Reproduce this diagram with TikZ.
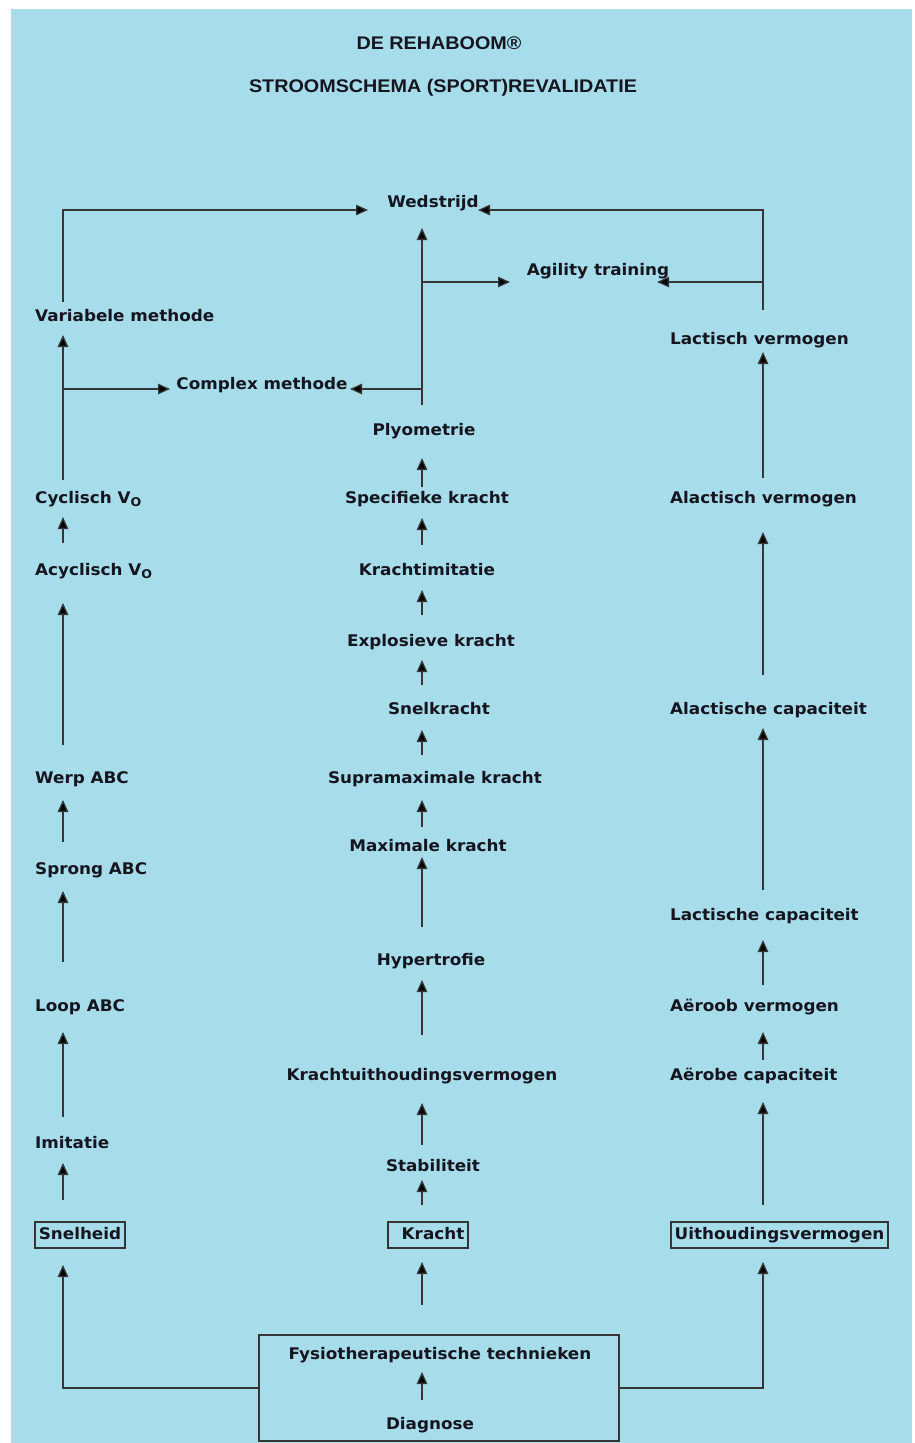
\documentclass[tikz,border=0pt]{standalone}
\usepackage{fontspec}
\usetikzlibrary{arrows.meta}
\newfontfamily\labfont{DejaVu Sans}[FakeStretch=1.05]
\newfontfamily\ttlfont{Liberation Sans}[FakeStretch=1.08]
\definecolor{bgblue}{HTML}{A7DCEA}
\definecolor{ink}{HTML}{15151F}
\definecolor{wire}{HTML}{353535}
\newcommand{\Vsub}{V\raisebox{-3pt}{\fontsize{12}{12}\selectfont O}}
\tikzset{
  lab/.style={font=\labfont\bfseries\fontsize{16}{18}\selectfont, text=ink, inner sep=0pt, text height=11.5pt, text depth=3.4pt, yshift=-1.5pt},
  ttl/.style={font=\ttlfont\bfseries\fontsize{18.3}{20}\selectfont, text=ink, inner sep=0pt},
  lft/.style={lab, anchor=west},
  boxlab/.style={lab, draw=wire, line width=1.2pt, inner sep=0pt, minimum height=26pt, yshift=1.5pt},
  arr/.style={draw=wire, line width=1.3pt, -{Triangle[length=12pt,width=10.5pt,fill=black]}},
  wire/.style={draw=wire, line width=1.3pt}
}
\begin{document}
\begin{tikzpicture}[x=1pt,y=-1pt]
\useasboundingbox (0,0) rectangle (914,1443);
\fill[white] (0,0) rectangle (914,1443);
\fill[bgblue] (11,9) rectangle (912,1443);

% titles
\node[ttl] (t1) at (439,43) {DE REHABOOM®};
\node[ttl] (t2) at (443,88) {STROOMSCHEMA (SPORT)REVALIDATIE};

% left column
\node[lft] (varm) at (35,316) {Variabele methode};
\node[lft] (cyc) at (35,498) {Cyclisch \Vsub};
\node[lft] (acyc) at (35,570) {Acyclisch \Vsub};
\node[lft] (werp) at (35,778) {Werp ABC};
\node[lft] (sprong) at (35,869) {Sprong ABC};
\node[lft] (loop) at (35,1006) {Loop ABC};
\node[lft] (imit) at (35,1143) {Imitatie};
\node[boxlab, minimum width=90pt] (snel) at (80,1235) {Snelheid};

% right column
\node[lft] (lacv) at (670,339) {Lactisch vermogen};
\node[lft] (alacv) at (670,498) {Alactisch vermogen};
\node[lft] (alacc) at (670,709) {Alactische capaciteit};
\node[lft] (lacc) at (670,915) {Lactische capaciteit};
\node[lft] (aerv) at (670,1006) {Aëroob vermogen};
\node[lft] (aerc) at (670,1075) {Aërobe capaciteit};
\node[boxlab, minimum width=217pt] (uith) at (779.5,1235) {Uithoudingsvermogen};

% middle column
\node[lab] (wed) at (433,202) {Wedstrijd};
\node[lab] (agil) at (598,270) {Agility training};
\node[lab] (cmpl) at (262,384) {Complex methode};
\node[lab] (plyo) at (424,430) {Plyometrie};
\node[lab] (spec) at (427,498) {Specifieke kracht};
\node[lab] (kimi) at (427,570) {Krachtimitatie};
\node[lab] (expl) at (431,641) {Explosieve kracht};
\node[lab] (snelk) at (439,709) {Snelkracht};
\node[lab] (supra) at (435,778) {Supramaximale kracht};
\node[lab] (maxk) at (428,846) {Maximale kracht};
\node[lab] (hyper) at (431,960) {Hypertrofie};
\node[lab] (kuv) at (422,1075) {Krachtuithoudingsvermogen};
\node[lab] (stab) at (433,1166) {Stabiliteit};
\node[boxlab, minimum width=80pt] (kracht) at (428,1235) {\hspace{10pt}Kracht};

% bottom box
\node[draw=wire, line width=1.3pt, minimum width=360pt, minimum height=106pt, inner sep=0pt] (base) at (439,1388) {};
\node[lab] (fysio) at (440,1354) {Fysiotherapeutische technieken};
\node[lab] (diag) at (430,1424) {Diagnose};
\draw[arr] (422,1400) -- (422,1372);

% bottom connectors
\draw[arr] (base.west) -| (63,1265);
\draw[arr] (base.east) -| (763,1262);
\draw[arr] (422,1305) -- (422,1262);

% left column arrows
\draw[arr] (63,1200) -- (63,1163);
\draw[arr] (63,1117) -- (63,1032);
\draw[arr] (63,962) -- (63,891);
\draw[arr] (63,842) -- (63,800);
\draw[arr] (63,745) -- (63,603);
\draw[arr] (63,543) -- (63,517);
\draw[arr] (63,480) -- (63,335);
\draw[arr] (63,389) -- (170,389);
\draw[arr] (63,302) -- (63,210) -- (368,210);

% middle column arrows
\draw[arr] (422,1205) -- (422,1180);
\draw[arr] (422,1145) -- (422,1103);
\draw[arr] (422,1035) -- (422,980);
\draw[arr] (422,927) -- (422,857);
\draw[arr] (422,827) -- (422,800);
\draw[arr] (422,755) -- (422,730);
\draw[arr] (422,685) -- (422,660);
\draw[arr] (422,615) -- (422,590);
\draw[arr] (422,545) -- (422,518);
\draw[arr] (422,487) -- (422,458);
\draw[arr] (422,405) -- (422,228);
\draw[arr] (422,389) -- (350,389);
\draw[arr] (422,282) -- (510,282);

% right column arrows
\draw[arr] (763,1205) -- (763,1102);
\draw[arr] (763,1060) -- (763,1032);
\draw[arr] (763,985) -- (763,940);
\draw[arr] (763,890) -- (763,728);
\draw[arr] (763,675) -- (763,532);
\draw[arr] (763,478) -- (763,352);
\draw[arr] (763,310) -- (763,210) -- (478,210);
\draw[arr] (763,282) -- (657,282);
\end{tikzpicture}
\end{document}
